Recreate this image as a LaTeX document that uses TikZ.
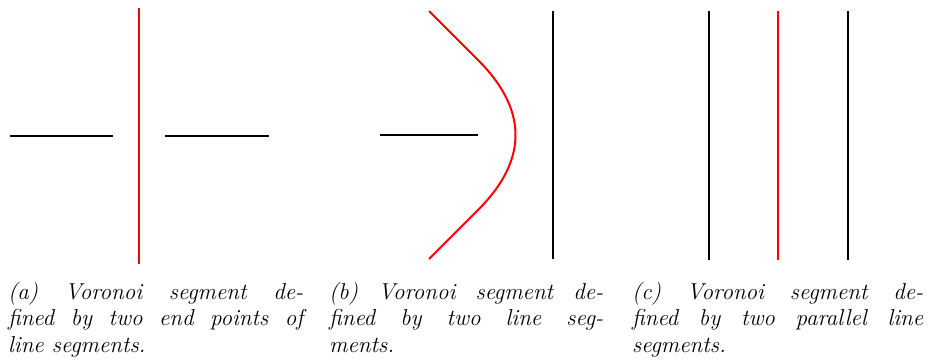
\documentclass[tikz,border=0pt]{standalone}
\usepackage{tikz}

\tikzset{
  seg/.style={line width=2pt, black},
  vor/.style={line width=2pt, red},
  capt/.style={inner sep=0pt, anchor=base west, align=left,
    font=\fontsize{23}{26.3}\selectfont\itshape},
}
\newcommand{\capline}[2]{\makebox[#1][s]{#2}}

\begin{document}
\begin{tikzpicture}[x=1pt, y=-1pt]
  \useasboundingbox (0,0) rectangle (928,362);

  % ---------- (a) ----------
  \draw[seg] (9.5,136) -- (113,136);
  \draw[seg] (165,136) -- (269,136);
  \draw[vor] (139,8) -- (139,264);
  \node[capt] (capa) at (8,352.1)
    {\capline{295pt}{(a) Voronoi segment de-}\\
     \capline{295pt}{fined by two end points of}\\
     line segments.};

  % ---------- (b) ----------
  \draw[seg] (380,135) -- (478,135);
  \draw[seg] (553,11) -- (553,259);
  \draw[vor, line join=round] (429,11) -- (478,60)
    -- plot[domain=-75:75, samples=60, smooth, variable=\t] ({515.5-\t*\t/150},{135+\t})
    -- (429,259);
  \node[capt] (capb) at (329,352.1)
    {\capline{274pt}{(b) Voronoi segment de-}\\
     \capline{274pt}{fined by two line seg-}\\
     ments.};

  % ---------- (c) ----------
  \draw[seg] (708.5,11) -- (708.5,260);
  \draw[vor] (778,11) -- (778,260);
  \draw[seg] (847.5,11) -- (847.5,260);
  \node[capt] (capc) at (632,352.1)
    {\capline{291pt}{(c) Voronoi segment de-}\\
     \capline{291pt}{fined by two parallel line}\\
     segments.};
\end{tikzpicture}
\end{document}
